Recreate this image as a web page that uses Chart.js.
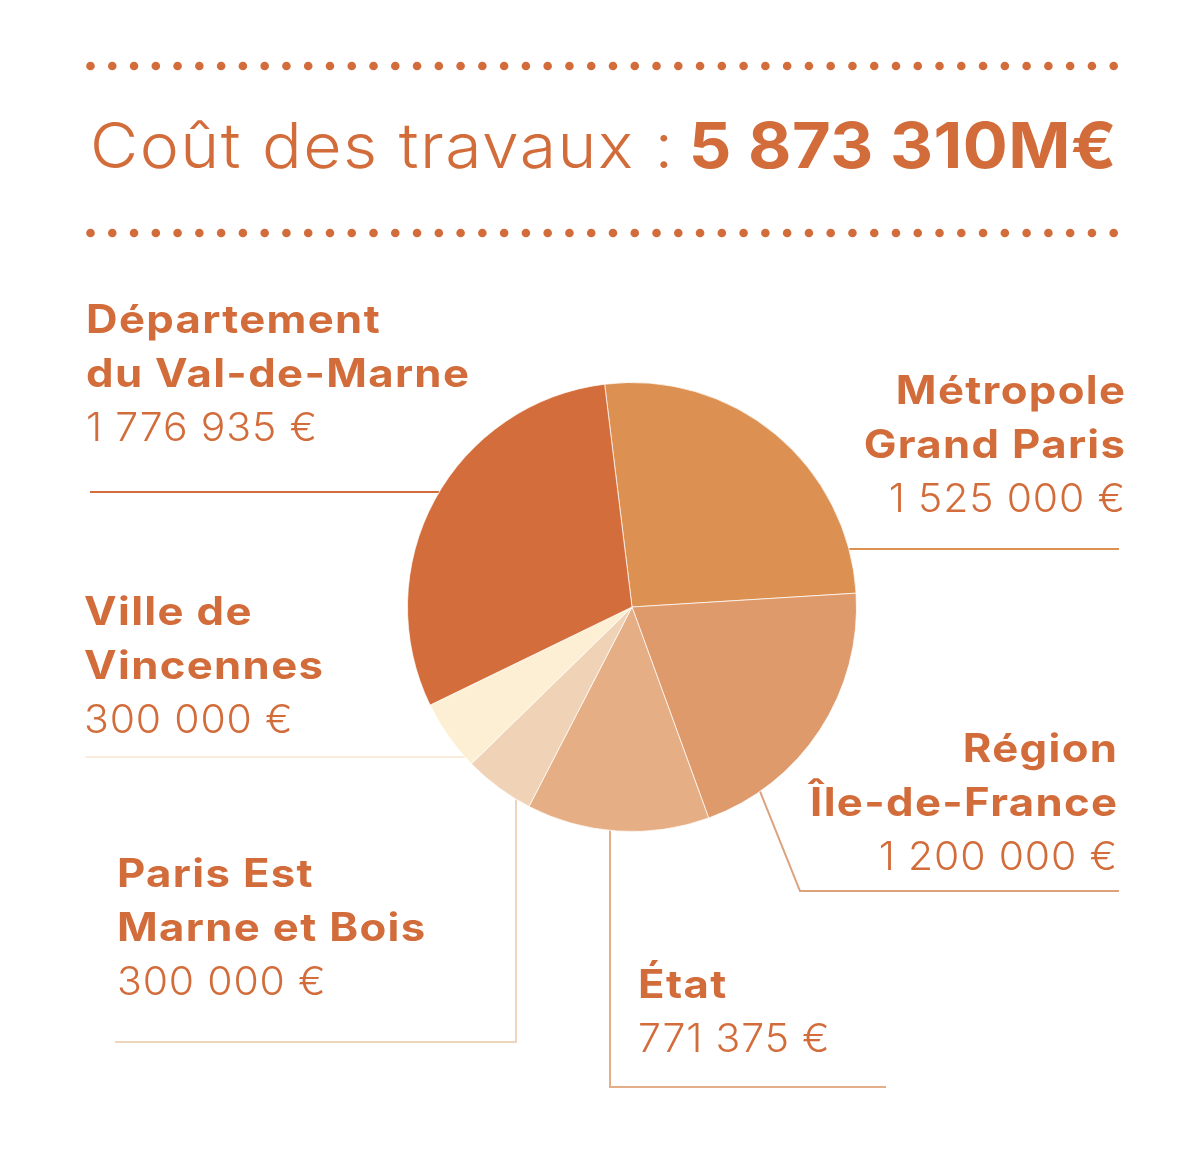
<!DOCTYPE html>
<html lang="fr">
<head>
<meta charset="utf-8">
<title>Coût des travaux</title>
<script src="https://cdn.jsdelivr.net/npm/chart.js@4.4.1/dist/chart.umd.min.js"></script>
<style>
  html, body { margin: 0; padding: 0; background: #ffffff; }
  canvas { display: block; }
</style>
</head>
<body>
<canvas id="coutChart" width="1179" height="1160"></canvas>
<script>
// financeurs, dans l'ordre des parts (sens horaire depuis le haut)
const financeurs = [
  ["Métropole", "Grand Paris"],
  ["Région", "Île-de-France"],
  ["État"],
  ["Paris Est", "Marne et Bois"],
  ["Ville de", "Vincennes"],
  ["Département", "du Val-de-Marne"],
];
const montants = [1525000, 1200000, 771375, 300000, 300000, 1776935];
const couleurs = ["#dc9153", "#df9a6b", "#e6ae84", "#f0d3b6", "#fcefd4", "#d36d3b"];
const titre = "Coût des travaux : ";
const unite = "M€";

const ORANGE = "#d26d3b";
const FONT = "Inter, 'Liberation Sans', sans-serif";

// positions des étiquettes et des traits de rappel
const etiquettes = [
  { x: 1125, y: 404, align: "right" },
  { x: 1117, y: 762, align: "right" },
  { x: 638, y: 998, align: "left" },
  { x: 117, y: 887, align: "left" },
  { x: 84, y: 625, align: "left" },
  { x: 86, y: 333, align: "left" },
];
const traitCouleurs = ["#dc9052", "#dca27c", "#e4ae88", "#f0d5bd", "#fbeddb", "#d36d3b"];

function formatEuro(n) {
  return String(n).replace(/\B(?=(\d{3})+(?!\d))/g, " ");
}

// texte un peu élargi (étirement + approche), pour imiter la police d'origine
function texte(ctx, str, x, y, align, sx, spacing) {
  ctx.save();
  ctx.letterSpacing = spacing + "px";
  ctx.textAlign = align;
  ctx.translate(x, y);
  ctx.scale(sx, 1);
  ctx.fillText(str, align === "right" ? spacing : 0, 0);
  const w = ctx.measureText(str).width * sx;
  ctx.restore();
  return w;
}

const decorPlugin = {
  id: "decor",
  beforeDatasetsDraw(chart) {
    const ctx = chart.ctx;
    const arc = chart.getDatasetMeta(0).data[0];
    const cx = arc.x, cy = arc.y, r = arc.outerRadius;
    const edgeX = (y, side) => cx + side * Math.sqrt(r * r - (y - cy) * (y - cy));
    const edgeY = (x) => cy + Math.sqrt(r * r - (x - cx) * (x - cx));

    const traits = [
      [[edgeX(549, 1), 549], [1119, 549]],
      [[760, edgeY(760)], [800, 891], [1119, 891]],
      [[610, edgeY(610)], [610, 1087], [886, 1087]],
      [[516, edgeY(516)], [516, 1042], [115, 1042]],
      [[edgeX(757, -1), 757], [85, 757]],
      [[edgeX(492, -1), 492], [90, 492]],
    ];

    ctx.save();
    ctx.lineWidth = 2;
    traits.forEach((pts, i) => {
      ctx.strokeStyle = traitCouleurs[i];
      ctx.beginPath();
      pts.forEach(([x, y], j) => (j ? ctx.lineTo(x, y) : ctx.moveTo(x, y)));
      ctx.stroke();
    });
    ctx.restore();
  },
  afterDraw(chart) {
    const ctx = chart.ctx;
    ctx.save();
    ctx.fillStyle = ORANGE;

    // lignes de points
    [66, 233].forEach((y) => {
      for (let k = 0; k < 48; k++) {
        ctx.beginPath();
        ctx.arc(90.5 + k * 21.77, y, 4.3, 0, Math.PI * 2);
        ctx.fill();
      }
    });

    // titre
    const total = montants.reduce((a, b) => a + b, 0);
    ctx.textBaseline = "alphabetic";
    ctx.font = "300 63px " + FONT;
    const w = texte(ctx, titre, 90, 168, "left", 1.05, 1.4);
    ctx.font = "700 63px " + FONT;
    texte(ctx, formatEuro(total) + unite, 84 + w, 168, "left", 1.06, 0.4);

    // étiquettes
    etiquettes.forEach((pos, i) => {
      const lignes = financeurs[i];
      ctx.font = "700 39px " + FONT;
      lignes.forEach((txt, j) => texte(ctx, txt, pos.x, pos.y + j * 54, pos.align, 1.12, 1.2));
      ctx.font = "300 39px " + FONT;
      texte(ctx, formatEuro(montants[i]) + " €", pos.x, pos.y + lignes.length * 54, pos.align, 1.05, 0.8);
    });
    ctx.restore();
  },
};

new Chart(document.getElementById("coutChart"), {
  type: "pie",
  data: {
    labels: financeurs.map((l) => l.join(" ")),
    datasets: [
      {
        data: montants,
        backgroundColor: couleurs,
        borderColor: "rgba(255,255,255,0.7)",
        borderWidth: 1,
      },
    ],
  },
  options: {
    responsive: false,
    animation: false,
    devicePixelRatio: 1,
    rotation: -7,
    layout: { padding: { left: 407, top: 382, right: 322, bottom: 328 } },
    plugins: {
      legend: { display: false },
      tooltip: { enabled: false },
    },
  },
  plugins: [decorPlugin],
});
</script>
</body>
</html>
